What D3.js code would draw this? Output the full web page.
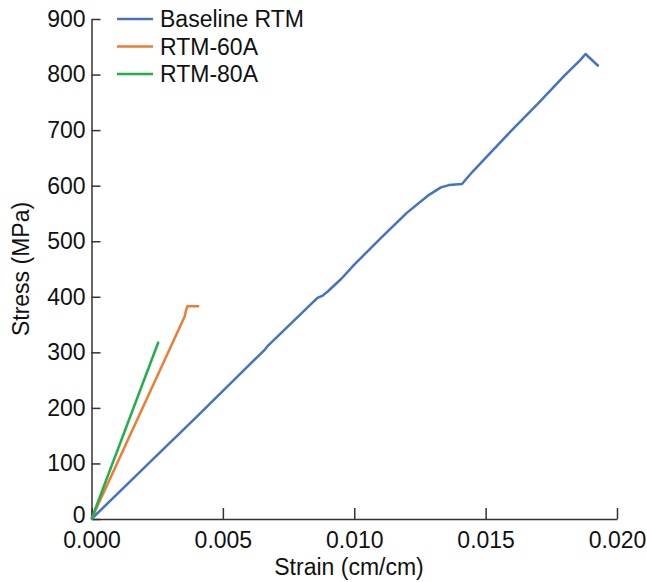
<!DOCTYPE html>
<html>
<head>
<meta charset="utf-8">
<script src="https://cdn.jsdelivr.net/npm/d3@7"></script>
<style>
  body { margin: 0; background: #fff; }
  svg { font-family: "Liberation Sans", Arial, sans-serif; }
</style>
</head>
<body>
<div class="chart"></div>
<script>
// series (strain in cm/cm, stress in MPa)
const baseStrain = [0, 0.002, 0.004, 0.0066, 0.0067, 0.0086, 0.0088, 0.0090, 0.0095, 0.0100, 0.0110, 0.0120, 0.0128, 0.0133, 0.0136, 0.0141, 0.0145, 0.0150, 0.0160, 0.0170, 0.0180, 0.0186, 0.0188, 0.0193];
const baseStress = [0, 92, 184, 305, 311, 398, 402, 410, 432, 458, 505, 551, 582, 597, 601, 603, 625, 650, 700, 748, 798, 826, 837, 815];
const a60Strain = [0, 0.00355, 0.0036, 0.00365, 0.0037, 0.0041];
const a60Stress = [0, 365, 376, 383, 383, 383];
const a80Strain = [0, 0.00255];
const a80Stress = [0, 319];

const seriesNames = ['Baseline RTM', 'RTM-60A', 'RTM-80A'];
const colors = ['#4472c4', '#ed7d31', '#1fb04c'];
const xTicks = [0, 0.005, 0.010, 0.015, 0.020];
const yTicks = [0, 100, 200, 300, 400, 500, 600, 700, 800, 900];

const W = 647, H = 582;
const m = {left: 91.5, right: 30, top: 19, bottom: 63};
const fs = '23px';

const svg = d3.select('.chart').append('svg').attr('width', W).attr('height', H);

const x = d3.scaleLinear().domain([0, 0.02]).range([m.left, W - m.right]);
const y = d3.scaleLinear().domain([0, 900]).range([H - m.bottom, m.top]);

const axisColor = '#333';

// x axis
let gx = svg.append('g').attr('transform', 'translate(0,' + y(0) + ')')
    .call(d3.axisBottom(x).tickValues(xTicks).tickFormat(d3.format('.3f')).tickSizeInner(-11).tickSizeOuter(0).tickPadding(13));
// y axis
let gy = svg.append('g').attr('transform', 'translate(' + x(0) + ',0)')
    .call(d3.axisLeft(y).tickValues(yTicks).tickSizeInner(-9).tickSizeOuter(0).tickPadding(6));

[gx, gy].forEach(g => {
    g.select('.domain').attr('stroke', axisColor).attr('stroke-width', 1.5);
    g.selectAll('.tick line').attr('stroke', axisColor).attr('stroke-width', 1.5);
    g.selectAll('.tick text').attr('fill', '#111').style('font-size', fs)
        .style('font-family', '"Liberation Sans", Arial, sans-serif');
});
gx.selectAll('.tick text').attr('dy', '0.71em');
gy.selectAll('.tick text').attr('x', -6);
// the zero label sits a little above the corner, as in the source figure
gy.selectAll('.tick text').filter(d => d === 0).attr('y', -4);

// axis titles
svg.append('text').attr('x', 349).attr('y', 575).attr('text-anchor', 'middle')
    .style('font-size', fs).attr('fill', '#111').text('Strain (cm/cm)');
svg.append('text').attr('transform', 'translate(29,' + 269 + ') rotate(-90)').attr('text-anchor', 'middle')
    .style('font-size', fs).attr('fill', '#111').text('Stress (MPa)');

// lines
const series = [
    {xs: baseStrain, ys: baseStress},
    {xs: a60Strain, ys: a60Stress},
    {xs: a80Strain, ys: a80Stress}
];
const line = d3.line().x(d => x(d[0])).y(d => y(d[1]));
series.forEach((s, i) => {
    svg.append('path')
        .datum(s.xs.map((v, j) => [v, s.ys[j]]))
        .attr('d', line)
        .attr('fill', 'none')
        .attr('stroke', colors[i])
        .attr('stroke-width', 2.5)
        .attr('stroke-linejoin', 'round');
});

// legend
let leg = svg.append('g').selectAll('g').data(seriesNames).enter().append('g')
    .attr('transform', (d, i) => 'translate(117,' + (19 + i * 27.5) + ')');
leg.append('line').attr('x1', 0).attr('x2', 36).attr('stroke', (d, i) => colors[i]).attr('stroke-width', 2.5);
leg.append('text').attr('x', 43).attr('dy', '0.35em').style('font-size', fs).attr('fill', '#111').text(d => d);
</script>
</body>
</html>
